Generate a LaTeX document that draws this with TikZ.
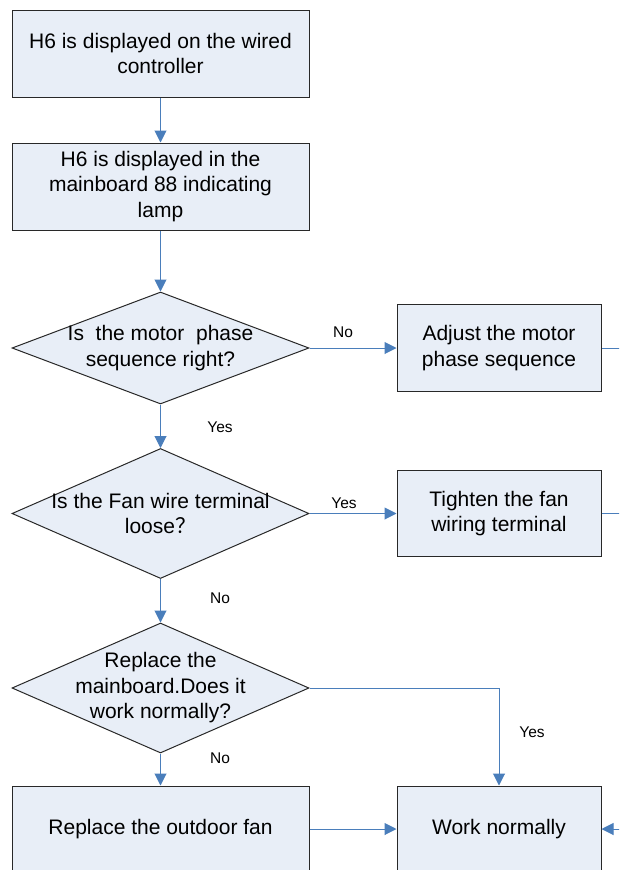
\documentclass[tikz,border=0pt]{standalone}
\usepackage{fontspec}
\setmainfont{Liberation Sans}
\newfontfamily\cjk{Noto Sans CJK SC}
\usetikzlibrary{shapes.geometric,arrows.meta}
\definecolor{boxfill}{RGB}{232,238,247}
\definecolor{boxline}{RGB}{40,40,40}
\definecolor{arrowblue}{RGB}{74,126,187}
\tikzset{
  stepbox/.style={draw=boxline, line width=1pt, fill=boxfill, rectangle, inner sep=0pt,
    align=center, font=\fontsize{21}{25.5}\selectfont},
  decbox/.style={draw=boxline, line width=1pt, fill=boxfill, diamond, inner sep=0pt,
    minimum width=297pt, minimum height=112pt},
  dectext/.style={align=center, inner sep=0pt, font=\fontsize{21}{25.5}\selectfont},
  lbl/.style={inner sep=0pt, font=\fontsize{15.5}{18}\selectfont},
  arr/.style={draw=arrowblue, line width=1pt, -{Triangle[length=12pt,width=12pt]}},
  ln/.style={draw=arrowblue, line width=1pt},
}
\begin{document}
\begin{tikzpicture}[x=1pt,y=-1pt]
\useasboundingbox (0,0) rectangle (619,870);
\clip (0,0) rectangle (619,870);
% boxes
\node[stepbox, minimum width=297pt, minimum height=87pt] (b1) at (160.5,53.5) {H6 is displayed on the wired\\controller};
\node[stepbox, minimum width=297pt, minimum height=87pt] (b2) at (160.5,186.5) {H6 is displayed in the\\mainboard 88 indicating\\lamp};
\node[decbox] (d1) at (160.5,348) {};
\node[dectext] (d1t) at (d1.center) {Is\ \ the motor\ \ phase\\sequence right?};
\node[stepbox, minimum width=204pt, minimum height=87pt] (a1) at (499,348) {Adjust the motor\\phase sequence};
\node[decbox, minimum height=130pt] (d2) at (160.5,513.5) {};
\node[dectext] (d2t) at (d2.center) {Is the Fan wire terminal\\loose{\cjk ？}};
\node[stepbox, minimum width=204pt, minimum height=86pt] (t1) at (499,513.5) {Tighten the fan\\wiring terminal};
\node[decbox, minimum height=130pt] (d3) at (160.5,688) {};
\node[dectext] (d3t) at (d3.center) {Replace the\\mainboard.Does it\\work normally?};
\node[stepbox, minimum width=297pt, minimum height=86pt] (f) at (160.5,829) {Replace the outdoor fan};
\node[stepbox, minimum width=204pt, minimum height=86pt] (w) at (499,829) {Work normally};
% free ends at the right edge
\coordinate (ea) at (625,348);
\coordinate (et) at (625,513.5);
\coordinate (ew) at (625,829);
% connectors
\draw[arr] (b1) -- (b2);
\draw[arr] (b2) -- (d1.north);
\draw[arr] (d1.east) -- (a1.west);
\draw[ln] (a1.east) -- (ea);
\draw[arr] (d1.south) -- (d2.north);
\draw[arr] (d2.east) -- (t1.west);
\draw[ln] (t1.east) -- (et);
\draw[arr] (d2.south) -- (d3.north);
\draw[arr] (d3.east) -| (w.north);
\draw[arr] (d3.south) -- (f.north);
\draw[arr] (f.east) -- (w.west);
\draw[arr] (ew) -- (w.east);
% labels
\node[lbl] (l1) at (343,332) {No};
\node[lbl] (l2) at (220,427) {Yes};
\node[lbl] (l3) at (344,503) {Yes};
\node[lbl] (l4) at (220,598) {No};
\node[lbl] (l5) at (532,732) {Yes};
\node[lbl] (l6) at (220,758) {No};
\end{tikzpicture}
\end{document}
